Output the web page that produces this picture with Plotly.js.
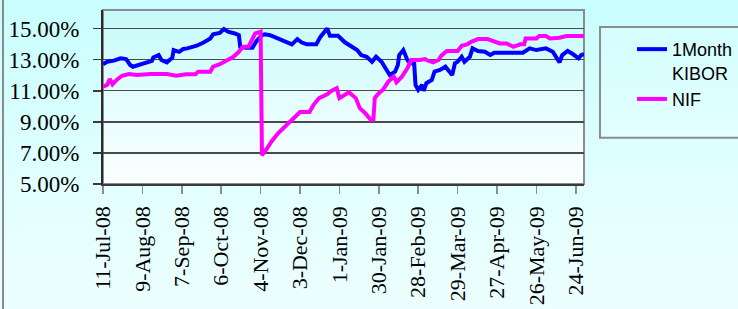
<!DOCTYPE html>
<html>
<head>
<meta charset="utf-8">
<script src="https://cdn.plot.ly/plotly-3.0.1.min.js"></script>
<style>
  html, body { margin: 0; padding: 0; }
  #wrap { position: relative; width: 738px; height: 309px; overflow: hidden;
          background: linear-gradient(to bottom, #c8fefe 0%, #e2ffff 60%, #ecfffe 100%); }
  #edge { position: absolute; left: 2px; top: 0; width: 2px; height: 309px; background: #8a8a8a; }
  #chart { position: absolute; left: 0; top: 0; width: 738px; height: 309px; }
</style>
</head>
<body>
<div id="wrap"><div id="edge"></div><div id="chart"></div></div>
<script>
// ---- data (percent) ----
const kiborDates = ['2008-07-11','2008-07-14','2008-07-19','2008-07-24','2008-07-28','2008-07-31','2008-08-02','2008-08-07','2008-08-12','2008-08-16','2008-08-17','2008-08-21','2008-08-23','2008-08-27','2008-08-31','2008-09-01','2008-09-05','2008-09-08','2008-09-11','2008-09-18','2008-09-23','2008-09-28','2008-09-30','2008-10-05','2008-10-08','2008-10-11','2008-10-16','2008-10-19','2008-10-20','2008-10-24','2008-10-29','2008-11-01','2008-11-05','2008-11-07','2008-11-11','2008-11-15','2008-11-18','2008-11-22','2008-11-27','2008-12-01','2008-12-04','2008-12-08','2008-12-15','2008-12-18','2008-12-21','2008-12-23','2008-12-25','2008-12-31','2009-01-05','2009-01-10','2009-01-14','2009-01-17','2009-01-21','2009-01-25','2009-01-28','2009-02-01','2009-02-05','2009-02-07','2009-02-11','2009-02-13','2009-02-14','2009-02-17','2009-02-20','2009-02-22','2009-02-25','2009-02-26','2009-02-28','2009-03-03','2009-03-04','2009-03-06','2009-03-10','2009-03-12','2009-03-16','2009-03-20','2009-03-23','2009-03-25','2009-03-27','2009-03-29','2009-04-01','2009-04-03','2009-04-07','2009-04-09','2009-04-13','2009-04-18','2009-04-22','2009-04-25','2009-05-16','2009-05-21','2009-05-26','2009-06-02','2009-06-07','2009-06-10','2009-06-12','2009-06-14','2009-06-18','2009-06-22','2009-06-26','2009-06-28','2009-06-30'];
const kiborValues = [12.71,12.87,12.94,13.09,13.04,12.66,12.55,12.66,12.81,12.92,13.15,13.30,12.98,12.83,13.13,13.62,13.51,13.69,13.73,13.90,14.11,14.37,14.63,14.73,14.97,14.80,14.69,14.58,13.83,13.77,13.77,14.20,14.58,14.63,14.58,14.43,14.37,14.20,13.99,14.33,14.12,13.99,13.99,14.47,14.80,15.01,14.54,14.54,14.12,13.83,13.62,13.30,13.19,12.87,13.19,12.87,12.23,12.02,12.23,12.66,13.30,13.62,12.98,12.77,12.77,11.38,11.06,11.38,11.00,11.49,11.70,12.23,12.34,12.55,12.23,12.02,12.77,12.87,13.19,12.87,13.19,13.73,13.56,13.51,13.30,13.45,13.45,13.73,13.62,13.73,13.51,13.09,12.83,13.30,13.56,13.35,13.09,13.30,13.35];

const nifDates = ['2008-07-11','2008-07-14','2008-07-16','2008-07-18','2008-07-21','2008-07-25','2008-07-30','2008-08-05','2008-08-15','2008-08-27','2008-09-03','2008-09-10','2008-09-17','2008-09-19','2008-09-28','2008-09-30','2008-10-05','2008-10-10','2008-10-15','2008-10-19','2008-10-22','2008-10-26','2008-10-29','2008-10-31','2008-11-04','2008-11-05','2008-11-09','2008-11-12','2008-11-17','2008-11-22','2008-11-26','2008-11-29','2008-12-03','2008-12-10','2008-12-13','2008-12-17','2008-12-23','2008-12-26','2008-12-30','2009-01-01','2009-01-05','2009-01-08','2009-01-13','2009-01-16','2009-01-20','2009-01-24','2009-01-26','2009-01-27','2009-01-30','2009-02-02','2009-02-06','2009-02-10','2009-02-12','2009-02-16','2009-02-20','2009-02-23','2009-03-01','2009-03-05','2009-03-06','2009-03-11','2009-03-15','2009-03-17','2009-03-21','2009-03-29','2009-04-01','2009-04-05','2009-04-08','2009-04-13','2009-04-20','2009-04-25','2009-04-29','2009-05-04','2009-05-09','2009-05-14','2009-05-17','2009-05-18','2009-05-26','2009-05-28','2009-06-02','2009-06-05','2009-06-12','2009-06-17','2009-06-30'];
const nifValues = [11.27,11.38,11.76,11.42,11.70,11.97,12.08,12.02,12.08,12.08,11.97,12.06,12.06,12.23,12.23,12.55,12.71,12.92,13.19,13.51,13.83,13.83,14.37,14.69,14.80,6.85,7.32,7.74,8.28,8.71,9.03,9.24,9.63,9.63,10.10,10.53,10.78,10.99,11.17,10.53,10.78,10.91,10.53,9.88,9.56,9.13,9.13,10.53,10.85,11.06,11.59,11.91,11.55,11.91,12.45,12.98,12.98,13.04,12.98,12.83,12.98,13.26,13.56,13.56,13.90,13.99,14.15,14.33,14.33,14.20,14.05,14.05,13.83,13.99,13.99,14.37,14.37,14.52,14.52,14.37,14.41,14.52,14.52];

const tickDates  = ['2008-07-11','2008-08-09','2008-09-07','2008-10-06','2008-11-04','2008-12-03','2009-01-01','2009-01-30','2009-02-28','2009-03-29','2009-04-27','2009-05-26','2009-06-24'];
const tickLabels = ['11-Jul-08','9-Aug-08','7-Sep-08','6-Oct-08','4-Nov-08','3-Dec-08','1-Jan-09','30-Jan-09','28-Feb-09','29-Mar-09','27-Apr-09','26-May-09','24-Jun-09'];
const yTicks = [5, 7, 9, 11, 13, 15];
const yTickLabels = ['5.00%', '7.00%', '9.00%', '11.00%', '13.00%', '15.00%'];
const seriesNames = ['1Month<br>KIBOR', 'NIF'];
const xRange = ['2008-07-11', '2009-06-30'];
const yRange = [5, 16.2];

const serif = "'Liberation Serif', 'Times New Roman', serif";
const sans = "'Liberation Sans', Arial, sans-serif";

const bgSvg = "data:image/svg+xml;charset=utf-8," + encodeURIComponent(
  '<svg xmlns="http://www.w3.org/2000/svg" width="100" height="100" preserveAspectRatio="none">' +
  '<defs><linearGradient id="g" x1="0" y1="0" x2="0" y2="1">' +
  '<stop offset="0" stop-color="#c4fafa"/><stop offset="0.5" stop-color="#e4fdfd"/><stop offset="1" stop-color="#fbffff"/>' +
  '</linearGradient></defs><rect width="100" height="100" fill="url(#g)"/></svg>');

const traces = [
  { x: kiborDates, y: kiborValues, name: seriesNames[0], type: 'scatter', mode: 'lines',
    line: { color: '#0000ff', width: 4 } },
  { x: nifDates, y: nifValues, name: seriesNames[1], type: 'scatter', mode: 'lines',
    line: { color: '#ff00ff', width: 4 } }
];

const layout = {
  width: 738, height: 309,
  margin: { l: 103, r: 154, t: 10, b: 124.5, pad: 0, autoexpand: false },
  paper_bgcolor: 'rgba(0,0,0,0)',
  plot_bgcolor: 'rgba(0,0,0,0)',
  showlegend: true,
  xaxis: {
    type: 'date', range: xRange,
    tickmode: 'array', tickvals: tickDates, ticktext: tickLabels,
    tickangle: -90, ticks: 'outside', ticklen: 8, tickcolor: '#8c8c8c', tickwidth: 1.5,
    ticklabelstandoff: 4,
    showline: true, linecolor: '#3a3a3a', linewidth: 1.5,
    showgrid: false, zeroline: false,
    tickfont: { family: serif, size: 22, color: '#000' }
  },
  yaxis: {
    range: yRange, tickmode: 'array', tickvals: yTicks, ticktext: yTickLabels,
    ticks: 'outside', ticklen: 8, tickcolor: '#3a3a3a', tickwidth: 1.5,
    ticklabelstandoff: 9,
    showline: true, linecolor: '#2a2a2a', linewidth: 2,
    showgrid: true, gridcolor: '#4a4a4a', gridwidth: 1.3, zeroline: false,
    tickfont: { family: serif, size: 23, color: '#000' }
  },
  legend: {
    x: (632 - 103) / 481, xanchor: 'left',
    y: (184.5 - 31) / 174.5, yanchor: 'top',
    valign: 'top',
    bgcolor: 'rgba(0,0,0,0)', borderwidth: 0,
    font: { family: sans, size: 18, color: '#000' },
    tracegroupgap: 0
  },
  images: [{
    source: bgSvg, xref: 'paper', yref: 'paper', x: 0, y: 1, sizex: 1, sizey: 1,
    xanchor: 'left', yanchor: 'top', sizing: 'stretch', layer: 'below'
  }],
  shapes: [
    { type: 'rect', xref: 'paper', yref: 'paper', x0: 0, x1: 1, y0: 0, y1: 1,
      line: { color: '#8c8c8c', width: 2 }, fillcolor: 'rgba(0,0,0,0)', layer: 'below' },
    { type: 'rect', xref: 'paper', yref: 'paper',
      x0: (600 - 103) / 481, x1: (760 - 103) / 481,
      y0: (184.5 - 138) / 174.5, y1: (184.5 - 27) / 174.5,
      line: { color: '#8c8c8c', width: 2 }, fillcolor: 'rgba(255,255,255,0.18)', layer: 'below' }
  ]
};

Plotly.newPlot('chart', traces, layout, { displayModeBar: false, staticPlot: true });
</script>
</body>
</html>
